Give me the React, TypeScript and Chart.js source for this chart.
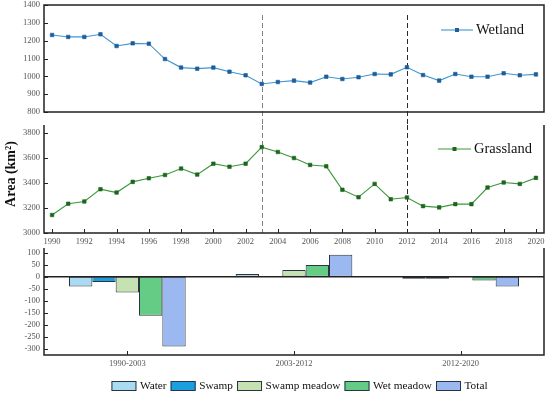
import { useEffect, useRef } from "react";
import { Chart, registerables } from "chart.js";

Chart.register(...registerables);

// ---------------- data ----------------
const years = [
  "1990", "1991", "1992", "1993", "1994", "1995", "1996", "1997", "1998", "1999",
  "2000", "2001", "2002", "2003", "2004", "2005", "2006", "2007", "2008", "2009",
  "2010", "2011", "2012", "2013", "2014", "2015", "2016", "2017", "2018", "2019", "2020",
];
const yearLabels = [
  "1990", "1992", "1994", "1996", "1998", "2000", "2002", "2004",
  "2006", "2008", "2010", "2012", "2014", "2016", "2018", "2020",
];
const wetland = [
  1232, 1221, 1221, 1236, 1170, 1185, 1183, 1097, 1049, 1043,
  1049, 1026, 1006, 957, 968, 976, 965, 998, 985, 995,
  1013, 1011, 1051, 1007, 976, 1013, 998, 998, 1017, 1006, 1011,
];
const grassland = [
  3143, 3233, 3251, 3349, 3322, 3407, 3436, 3462, 3513, 3465,
  3552, 3528, 3552, 3684, 3645, 3597, 3542, 3531, 3344, 3285,
  3391, 3269, 3283, 3214, 3204, 3230, 3230, 3362, 3402, 3391, 3439,
];
const markerYears = ["2003", "2012"];

const periods = ["1990-2003", "2003-2012", "2012-2020"];
const water = [-40, 12, -8];
const swamp = [-21, 4, -8];
const swampMeadow = [-65, 28, -2];
const wetMeadow = [-162, 49, -15];
const total = [-290, 92, -40];

const wetlandTicks = [800, 900, 1000, 1100, 1200, 1300, 1400];
const grasslandTicks = [3000, 3200, 3400, 3600, 3800];
const changeTicks = [-300, -250, -200, -150, -100, -50, 0, 50, 100];

// ---------------- styles ----------------
const SERIF = "'Liberation Serif', 'Times New Roman', 'DejaVu Serif', serif";
const AXIS = "#222";
const TICK_COLOR = "#555";
const W = 550;
const PLOT_LEFT = 44;
const PAD_RIGHT = 6;

const A_TOP = -15, A_H = 140;
const B_TOP = 110, B_H = 140;
const C_TOP = 238, C_H = 156;

const barColors = ["#a9dcf2", "#1c9fe0", "#c6e1b2", "#64cc84", "#9cb8f0"];
const barNames = ["Water", "Swamp", "Swamp meadow", "Wet meadow", "Total"];
const barSeries = [water, swamp, swampMeadow, wetMeadow, total];

function yScale(min: number, max: number, ticks: number[]) {
  return {
    min,
    max,
    afterBuildTicks: (s: any) => {
      s.ticks = ticks.map((v) => ({ value: v }));
    },
    afterFit: (s: any) => {
      s.width = PLOT_LEFT;
    },
    grid: { display: false, drawTicks: false },
    border: { display: false },
    ticks: {
      padding: 4,
      color: TICK_COLOR,
      font: { family: SERIF, size: 8.5 },
      callback: (v: any) => String(v),
    },
  };
}

function drawFrame(chart: any, sides: string[]) {
  const { ctx, chartArea } = chart;
  const { left, right, top, bottom } = chartArea;
  ctx.save();
  ctx.strokeStyle = AXIS;
  ctx.lineWidth = 1.5;
  ctx.beginPath();
  if (sides.includes("top")) { ctx.moveTo(left - 0.75, top); ctx.lineTo(right + 0.75, top); }
  if (sides.includes("bottom")) { ctx.moveTo(left - 0.75, bottom); ctx.lineTo(right + 0.75, bottom); }
  if (sides.includes("left")) { ctx.moveTo(left, top); ctx.lineTo(left, bottom); }
  if (sides.includes("right")) { ctx.moveTo(right, top); ctx.lineTo(right, bottom); }
  ctx.stroke();
  // inner y ticks
  const y = chart.scales.y;
  ctx.lineWidth = 1;
  ctx.beginPath();
  y.ticks.forEach((t: any) => {
    const py = Math.round(y.getPixelForValue(t.value)) + 0.5;
    ctx.moveTo(left, py);
    ctx.lineTo(left + 4, py);
  });
  ctx.stroke();
  ctx.restore();
}

function drawXTicks(chart: any, indexes: number[]) {
  const { ctx, chartArea } = chart;
  const x = chart.scales.x;
  ctx.save();
  ctx.strokeStyle = AXIS;
  ctx.lineWidth = 1;
  ctx.beginPath();
  indexes.forEach((i) => {
    const px = Math.round(x.getPixelForValue(i)) + 0.5;
    ctx.moveTo(px, chartArea.bottom);
    ctx.lineTo(px, chartArea.bottom - 4);
  });
  ctx.stroke();
  ctx.restore();
}

function drawVLines(chart: any, fromY: number, toY: number) {
  const { ctx } = chart;
  const x = chart.scales.x;
  const colors = ["#808080", "#2a2a2a"];
  ctx.save();
  ctx.setLineDash([5, 3]);
  ctx.lineWidth = 1;
  markerYears.forEach((yr, k) => {
    const px = Math.round(x.getPixelForValue(years.indexOf(yr))) + 0.5;
    ctx.strokeStyle = colors[k];
    ctx.beginPath();
    ctx.moveTo(px, fromY);
    ctx.lineTo(px, toY);
    ctx.stroke();
  });
  ctx.restore();
}

function drawLineLegend(chart: any, label: string, lineColor: string, markColor: string, x0: number, x1: number, y: number) {
  const { ctx } = chart;
  ctx.save();
  ctx.strokeStyle = lineColor;
  ctx.lineWidth = 1.1;
  ctx.beginPath();
  ctx.moveTo(x0, y);
  ctx.lineTo(x1, y);
  ctx.stroke();
  ctx.fillStyle = markColor;
  const mx = (x0 + x1) / 2;
  ctx.fillRect(mx - 2, y - 2, 4, 4);
  ctx.fillStyle = "#111";
  ctx.font = `14.5px ${SERIF}`;
  ctx.textBaseline = "middle";
  ctx.textAlign = "left";
  ctx.fillText(label, x1 + 3, y);
  ctx.restore();
}

function lineDataset(label: string, data: number[], line: string, mark: string) {
  return {
    label,
    data,
    borderColor: line,
    backgroundColor: mark,
    pointBackgroundColor: mark,
    pointBorderColor: mark,
    pointStyle: "rect",
    pointRadius: 2.5,
    pointBorderWidth: 0.6,
    borderWidth: 1.1,
    tension: 0,
  };
}

export default function App() {
  const refA = useRef<HTMLCanvasElement>(null);
  const refB = useRef<HTMLCanvasElement>(null);
  const refC = useRef<HTMLCanvasElement>(null);

  useEffect(() => {
    Chart.defaults.font.family = SERIF;

    const WET_LINE = "#3f96d0", WET_MARK = "#1d5e9a";
    const GR_LINE = "#3a983a", GR_MARK = "#1d661d";

    // ---------- top: Wetland ----------
    const chartA = new Chart(refA.current!, {
      type: "line",
      data: { labels: years, datasets: [lineDataset("Wetland", wetland, WET_LINE, WET_MARK) as any] },
      options: {
        animation: false,
        responsive: false,
        layout: { padding: { top: 20, bottom: 13, left: 0, right: PAD_RIGHT } },
        plugins: { legend: { display: false }, tooltip: { enabled: false } },
        scales: {
          x: { type: "category", offset: true, display: false },
          y: yScale(800, 1400, wetlandTicks) as any,
        },
      },
      plugins: [
        {
          id: "frameA",
          beforeDatasetsDraw: (chart: any) => drawVLines(chart, chart.chartArea.top + 10, chart.height),
          afterDraw: (chart: any) => {
            drawFrame(chart, ["top", "bottom", "left", "right"]);
            drawLineLegend(chart, "Wetland", WET_LINE, WET_MARK, 441, 473, 30 - A_TOP);
          },
        },
      ],
    });

    // ---------- middle: Grassland ----------
    const chartB = new Chart(refB.current!, {
      type: "line",
      data: { labels: years, datasets: [lineDataset("Grassland", grassland, GR_LINE, GR_MARK) as any] },
      options: {
        animation: false,
        responsive: false,
        layout: { padding: { top: 15, bottom: 0, left: 0, right: PAD_RIGHT } },
        plugins: { legend: { display: false }, tooltip: { enabled: false } },
        scales: {
          x: {
            type: "category",
            offset: true,
            grid: { display: false, drawTicks: false },
            border: { display: false },
            afterFit: (s: any) => { s.height = 17; },
            ticks: {
              autoSkip: false,
              maxRotation: 0,
              padding: 4,
              color: TICK_COLOR,
              font: { family: SERIF, size: 8.5 },
              callback: (_v: any, i: number) => (yearLabels.includes(years[i]) ? years[i] : ""),
            },
          },
          y: yScale(3000, 3860, grasslandTicks) as any,
        },
      },
      plugins: [
        {
          id: "frameB",
          beforeDatasetsDraw: (chart: any) => drawVLines(chart, chart.chartArea.top, chart.chartArea.bottom),
          afterDraw: (chart: any) => {
            drawFrame(chart, ["bottom", "left", "right"]);
            drawXTicks(chart, yearLabels.map((y) => years.indexOf(y)));
            drawLineLegend(chart, "Grassland", GR_LINE, GR_MARK, 438, 471, 149 - B_TOP);
            const { ctx } = chart;
            ctx.save();
            ctx.translate(11, 174 - B_TOP);
            ctx.rotate(-Math.PI / 2);
            ctx.font = `bold 14px ${SERIF}`;
            ctx.fillStyle = "#111";
            ctx.textAlign = "center";
            ctx.textBaseline = "middle";
            ctx.fillText("Area (km²)", 0, 0);
            ctx.restore();
          },
        },
      ],
    });

    // ---------- bottom: changes ----------
    const chartC = new Chart(refC.current!, {
      type: "bar",
      data: {
        labels: periods,
        datasets: barSeries.map((d, k) => ({
          label: barNames[k],
          data: d,
          backgroundColor: barColors[k],
          borderColor: "#2b3542",
          borderWidth: 1,
          borderSkipped: false,
          barPercentage: 1,
          categoryPercentage: 0.7,
        })) as any,
      },
      options: {
        animation: false,
        responsive: false,
        layout: { padding: { top: 10, bottom: 0, left: 0, right: PAD_RIGHT } },
        plugins: { legend: { display: false }, tooltip: { enabled: false } },
        scales: {
          x: {
            type: "category",
            grid: { display: false, drawTicks: false },
            border: { display: false },
            afterFit: (s: any) => { s.height = 39; },
            ticks: { padding: 4, color: TICK_COLOR, font: { family: SERIF, size: 8.5 }, maxRotation: 0 },
          },
          y: yScale(-325, 120, changeTicks) as any,
        },
      },
      plugins: [
        {
          id: "frameC",
          afterDatasetsDraw: (chart: any) => {
            const { ctx, chartArea } = chart;
            const y0 = chart.scales.y.getPixelForValue(0);
            ctx.save();
            ctx.strokeStyle = AXIS;
            ctx.lineWidth = 1.5;
            ctx.beginPath();
            ctx.moveTo(chartArea.left, y0);
            ctx.lineTo(chartArea.right, y0);
            ctx.stroke();
            ctx.restore();
          },
          afterDraw: (chart: any) => {
            drawFrame(chart, ["bottom", "left", "right"]);
            drawXTicks(chart, periods.map((_p, i) => i));
            // legend
            const { ctx } = chart;
            ctx.save();
            ctx.font = `11.3px ${SERIF}`;
            ctx.textBaseline = "middle";
            ctx.textAlign = "left";
            const boxW = 25, boxH = 10, gapText = 3.5, gapItem = 4;
            const widths = barNames.map((n) => ctx.measureText(n).width);
            let totalW = 0;
            widths.forEach((w, i) => { totalW += boxW + gapText + w + (i < widths.length - 1 ? gapItem : 0); });
            let x = 299.5 - totalW / 2;
            const yc = 386 - C_TOP;
            barNames.forEach((n, i) => {
              ctx.fillStyle = barColors[i];
              ctx.fillRect(x, yc - boxH / 2, boxW, boxH);
              ctx.strokeStyle = "#2b3542";
              ctx.lineWidth = 1;
              ctx.strokeRect(x + 0.5, yc - boxH / 2 + 0.5, boxW - 1, boxH - 1);
              ctx.fillStyle = "#111";
              ctx.fillText(n, x + boxW + gapText, yc + 0.5);
              x += boxW + gapText + widths[i] + gapItem;
            });
            ctx.restore();
          },
        },
      ],
    });

    return () => {
      chartA.destroy();
      chartB.destroy();
      chartC.destroy();
    };
  }, []);

  const cv = (top: number, h: number) => ({
    position: "absolute" as const,
    left: 0,
    top,
    width: W,
    height: h,
  });

  return (
    <div style={{ position: "fixed", left: 0, top: 0, width: W, height: 394, background: "#fff", overflow: "hidden" }}>
      <canvas ref={refA} width={W} height={A_H} style={cv(A_TOP, A_H)} />
      <canvas ref={refB} width={W} height={B_H} style={cv(B_TOP, B_H)} />
      <canvas ref={refC} width={W} height={C_H} style={cv(C_TOP, C_H)} />
    </div>
  );
}
